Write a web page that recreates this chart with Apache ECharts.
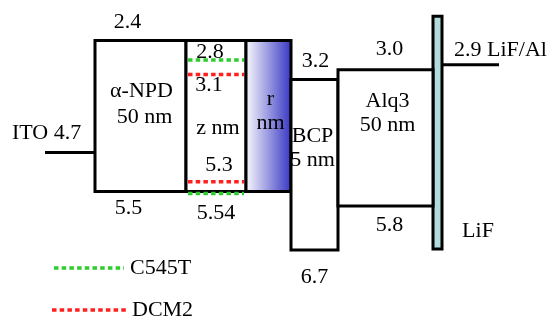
<!DOCTYPE html>
<html><head><meta charset="utf-8">
<script src="https://cdn.jsdelivr.net/npm/echarts@6/dist/echarts.min.js"></script>
<style>html,body{margin:0;padding:0;background:#fff}#c{width:551px;height:320px}</style>
</head><body><div id="c"></div>
<script>
// ---------------- data ----------------
const layerNames = ['α-NPD', 'z', 'r', 'BCP', 'Alq3'];
const layerThick = ['50 nm', 'z nm', 'r\nnm', 'BCP\n5 nm', '50 nm'];
const layerLUMO = [2.4, 2.4, 2.4, 3.2, 3.0];
const layerHOMO = [5.5, 5.5, 5.5, 6.7, 5.8];
const dopantNames = ['C545T', 'DCM2'];
const dopantLUMO = [2.8, 3.1];
const dopantHOMO = [5.54, 5.3];
const electrodeNames = ['ITO', 'LiF/Al'];
const electrodeWF = [4.7, 2.9];
const lifRange = [1.9, 6.68];

// ---------------- layout (x positions in axis units) ----------------
const layerX = [[95, 186], [186, 246], [246, 291], [291, 338], [338, 433]];
const electrodeX = [[45, 95], [442, 499]];
const lifX = [433, 442];
const dopantX = [188, 244];
const FAMILY = 'Liberation Serif';
const FSIZE = 22;
const COLORS = { green: '#2ecc2e', red: '#ff1f1f', lif: '#b2dcdc' };

const chart = echarts.init(document.getElementById('c'), null, { renderer: 'canvas' });

function txt(x, y, s, align) {
  return { type: 'text', x: x, y: y, style: { text: s, fontFamily: FAMILY, fontSize: FSIZE, fill: '#000', align: align || 'center', verticalAlign: 'middle', lineHeight: 24 }, z2: 10 };
}

function fmt(v) { return String(v); }

const option = {
  animation: false,
  textStyle: { fontFamily: FAMILY },
  grid: { left: 0, right: 0, top: 0, bottom: 0 },
  xAxis: { type: 'value', min: 0, max: 551, show: false },
  yAxis: { type: 'value', inverse: true, min: 1.5686, max: 8.138, show: false },
  series: [
    // LiF bar
    {
      type: 'custom', data: [[0]], z: 2,
      renderItem: function (params, api) {
        const p0 = api.coord([lifX[0], lifRange[0]]), p1 = api.coord([lifX[1], lifRange[1]]);
        return { type: 'group', children: [
          { type: 'rect', shape: { x: p0[0], y: p0[1], width: p1[0] - p0[0], height: p1[1] - p0[1] },
            style: { fill: COLORS.lif, stroke: '#000', lineWidth: 3 } },
          txt(p1[0] + 36, p1[1] - 18, 'LiF')
        ] };
      }
    },
    // layer boxes
    {
      type: 'custom', z: 3,
      data: layerNames.map((n, i) => [i]),
      renderItem: function (params, api) {
        const i = api.value(0);
        const p0 = api.coord([layerX[i][0], layerLUMO[i]]);
        const p1 = api.coord([layerX[i][1], layerHOMO[i]]);
        const fill = i === 2 ? new echarts.graphic.LinearGradient(0, 0, 1, 0, [
          { offset: 0, color: '#ffffff' }, { offset: 1, color: '#3232c2' }]) : '#fff';
        const cx = (p0[0] + p1[0]) / 2;
        const ch = [{ type: 'rect', shape: { x: p0[0], y: p0[1], width: p1[0] - p0[0], height: p1[1] - p0[1] },
          style: { fill: fill, stroke: '#000', lineWidth: 3 } }];
        if (i === 0) {
          ch.push(txt(cx + 1, p0[1] + 51, layerNames[0]));
          ch.push(txt(cx + 4, p0[1] + 77, layerThick[0]));
          ch.push(txt(cx - 13, p0[1] - 18, fmt(layerLUMO[0])));
          ch.push(txt(cx - 12, p1[1] + 17, fmt(layerHOMO[0])));
        } else if (i === 1) {
          ch.push(txt(cx + 2, p0[1] + 88, layerThick[1]));
        } else if (i === 2) {
          ch.push(txt(cx + 2, p0[1] + 71, layerThick[2]));
        } else if (i === 3) {
          ch.push(txt(cx - 2, p0[1] + 69, layerThick[3]));
          ch.push(txt(cx + 1, p0[1] - 18, fmt(layerLUMO[3])));
          ch.push(txt(cx, p1[1] + 27, fmt(layerHOMO[3])));
        } else if (i === 4) {
          ch.push(txt(cx + 2, p0[1] + 43, layerNames[4] + '\n' + layerThick[4]));
          ch.push(txt(cx + 4, p0[1] - 21, fmt(layerLUMO[4].toFixed(1))));
          ch.push(txt(cx + 4, p1[1] + 19, fmt(layerHOMO[4])));
        }
        return { type: 'group', children: ch };
      }
    },
    // electrodes (ITO, LiF/Al)
    {
      type: 'custom', z: 4,
      data: electrodeNames.map((n, i) => [i]),
      renderItem: function (params, api) {
        const i = api.value(0);
        const p0 = api.coord([electrodeX[i][0], electrodeWF[i]]);
        const p1 = api.coord([electrodeX[i][1], electrodeWF[i]]);
        const ch = [{ type: 'line', shape: { x1: p0[0], y1: p0[1], x2: p1[0], y2: p1[1] },
          style: { stroke: '#000', lineWidth: 3 } }];
        if (i === 0) ch.push(txt(12, p0[1] - 19, electrodeNames[0] + ' ' + electrodeWF[0], 'left'));
        else ch.push(txt(p0[0] + 12, p0[1] - 15, electrodeWF[1] + ' ' + electrodeNames[1], 'left'));
        return { type: 'group', children: ch };
      }
    },
    // dopant levels
    {
      type: 'custom', z: 5,
      data: dopantNames.map((n, i) => [i]),
      renderItem: function (params, api) {
        const i = api.value(0);
        const col = i === 0 ? COLORS.green : COLORS.red;
        const ch = [];
        [dopantLUMO[i], dopantHOMO[i]].forEach(function (e) {
          const a = api.coord([dopantX[0], e]), b = api.coord([dopantX[1], e]);
          ch.push({ type: 'line', shape: { x1: a[0], y1: a[1], x2: b[0], y2: b[1] },
            style: { stroke: col, lineWidth: 3.5, lineDash: [4.5, 3.2] } });
        });
        const cx = (api.coord([dopantX[0], 0])[0] + api.coord([dopantX[1], 0])[0]) / 2;
        const l = api.coord([0, dopantLUMO[i]]), h = api.coord([0, dopantHOMO[i]]);
        if (i === 0) {
          ch.push(txt(cx - 6, l[1] - 8, fmt(dopantLUMO[i])));
          ch.push(txt(cx + 0, h[1] + 20, fmt(dopantHOMO[i])));
        } else {
          ch.push(txt(cx - 7, l[1] + 11, fmt(dopantLUMO[i])));
          ch.push(txt(cx + 3, h[1] - 17, fmt(dopantHOMO[i])));
        }
        // legend sample
        const ly = i === 0 ? 268 : 310;
        const lx0 = i === 0 ? 54 : 52, lx1 = i === 0 ? 124 : 128;
        ch.push({ type: 'line', shape: { x1: lx0, y1: ly, x2: lx1, y2: ly },
          style: { stroke: col, lineWidth: 3.5, lineDash: [4.5, 3.2] } });
        ch.push(txt(i === 0 ? 130 : 132, ly, dopantNames[i], 'left'));
        return { type: 'group', children: ch };
      }
    }
  ]
};
chart.setOption(option);
</script>
</body></html>
